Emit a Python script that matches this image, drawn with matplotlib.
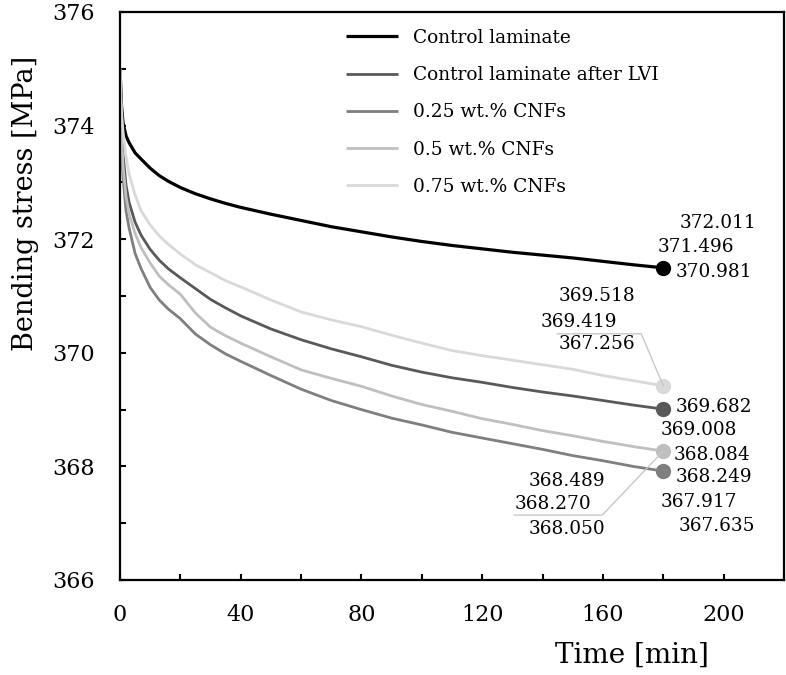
import matplotlib
matplotlib.use("Agg")
import matplotlib.pyplot as plt
from matplotlib.lines import Line2D
from matplotlib.ticker import MultipleLocator

plt.rcParams["font.family"] = ["DejaVu Serif"]

# Time axis samples [min]
time_min = [0, 0.5, 1, 2, 3, 5, 7, 10, 13, 16, 20, 25, 30, 35, 40, 50, 60, 70,
            80, 90, 100, 110, 120, 130, 140, 150, 160, 170, 180]

# Bending stress [MPa] for each laminate
control = [375.0, 374.35, 374.05, 373.82, 373.70, 373.52, 373.41, 373.25, 373.12,
           373.02, 372.91, 372.80, 372.71, 372.63, 372.56, 372.44, 372.33, 372.22,
           372.13, 372.04, 371.96, 371.89, 371.83, 371.77, 371.72, 371.67, 371.61,
           371.55, 371.496]
control_lvi = [375.0, 374.0, 373.5, 372.95, 372.65, 372.30, 372.07, 371.82, 371.63,
               371.48, 371.32, 371.13, 370.94, 370.79, 370.65, 370.42, 370.23, 370.07,
               369.93, 369.78, 369.66, 369.56, 369.48, 369.39, 369.31, 369.24, 369.16,
               369.08, 369.008]
cnf_025 = [375.0, 373.6, 373.1, 372.5, 372.2, 371.75, 371.48, 371.15, 370.93,
           370.77, 370.60, 370.33, 370.14, 369.98, 369.85, 369.60, 369.36, 369.16,
           369.00, 368.85, 368.73, 368.60, 368.50, 368.40, 368.30, 368.19, 368.10,
           368.00, 367.917]
cnf_05 = [375.0, 373.8, 373.3, 372.75, 372.45, 372.10, 371.85, 371.58, 371.35,
          371.20, 371.03, 370.70, 370.45, 370.30, 370.17, 369.93, 369.70, 369.55,
          369.41, 369.24, 369.09, 368.97, 368.84, 368.74, 368.63, 368.54, 368.44,
          368.35, 368.270]
cnf_075 = [375.0, 374.25, 373.9, 373.45, 373.15, 372.78, 372.50, 372.25, 372.06,
           371.91, 371.74, 371.55, 371.41, 371.27, 371.16, 370.93, 370.72, 370.58,
           370.46, 370.31, 370.17, 370.04, 369.95, 369.87, 369.79, 369.71, 369.60,
           369.51, 369.419]

labels = ["Control laminate", "Control laminate after LVI", "0.25 wt.% CNFs",
          "0.5 wt.% CNFs", "0.75 wt.% CNFs"]
series = [control, control_lvi, cnf_025, cnf_05, cnf_075]
colors = ["#000000", "#595959", "#7f7f7f", "#bfbfbf", "#d9d9d9"]
widths = [2.3, 2.0, 2.0, 2.0, 2.0]

# Values printed next to the end point of each curve (upper, mean, lower)
end_values = [
    ["372.011", "371.496", "370.981"],
    ["369.682", "369.008", "368.084"],
    ["368.249", "367.917", "367.635"],
    ["368.489", "368.270", "368.050"],
    ["369.518", "369.419", "367.256"],
]

W, H = 786, 675
fig = plt.figure(figsize=(W / 100, H / 100), dpi=100)
ax = fig.add_axes([120 / W, (H - 580) / H, 664 / W, 568 / H])

for y, lab, c, lw in zip(series, labels, colors, widths):
    ax.plot(time_min, y, color=c, lw=lw, label=lab, solid_capstyle="butt")
for y, c in zip(series, colors):
    ax.plot(time_min[-1], y[-1], "o", color=c, ms=10, zorder=5)

ax.set_xlim(0, 220)
ax.set_ylim(366, 376)
ax.xaxis.set_major_locator(MultipleLocator(40))
ax.xaxis.set_minor_locator(MultipleLocator(20))
ax.yaxis.set_major_locator(MultipleLocator(2))
ax.yaxis.set_minor_locator(MultipleLocator(1))
ax.tick_params(which="both", direction="in", width=1.5, length=4)
ax.tick_params(axis="x", which="major", labelsize=16, pad=17.5)
ax.tick_params(axis="y", which="major", labelsize=16, pad=18)
for s in ax.spines.values():
    s.set_linewidth(1.6)

ax.set_xlabel("Time [min]", fontsize=20)
ax.xaxis.set_label_coords((632 - 120) / 664, (580 - 642) / 568)
ax.set_ylabel("Bending stress [MPa]", fontsize=19.5)
ax.yaxis.set_label_coords((39 - 120) / 664, (580 - 203) / 568)

leg = ax.legend(loc="upper left", bbox_to_anchor=((346 - 120) / 664, (580 - 29) / 568),
                frameon=False, fontsize=13.4, handlelength=2.8, handletextpad=0.82,
                labelspacing=1.03, borderpad=0, borderaxespad=0)

# Pixel offsets of the value labels from each end marker (x right, y down)
offsets = [
    [(16, -45), (-6, -21), (12, 4)],
    [(12, -2), (-3, 21), (10, 46)],
    [(12, 6), (-3, 31), (15, 55)],
    [(-135, 30), (-149, 53), (-135, 78)],
    [(-105, -90), (-123, -64), (-105, -42)],
]
for y, texts, offs in zip(series, end_values, offsets):
    for t, (dx, dy) in zip(texts, offs):
        ax.annotate(t, xy=(time_min[-1], y[-1]), xytext=(dx, -dy),
                    textcoords="offset pixels", fontsize=13.3,
                    ha="left", va="center")

# Leader lines for the labels placed to the left of the markers
leaders = [
    (cnf_075, [(0, 0), (-22, -52), (-106, -52)]),
    (cnf_05, [(0, 0), (-61, 64), (-149, 64)]),
]
for y, pts in leaders:
    x0, y0 = ax.transData.transform((time_min[-1], y[-1]))
    xs = [x0 + dx for dx, dy in pts]
    ys = [y0 - dy for dx, dy in pts]
    fig.add_artist(Line2D(xs, ys, transform=None, color="#c8c8c8", lw=1.0, zorder=1))

fig.savefig("out.png", dpi=100)
